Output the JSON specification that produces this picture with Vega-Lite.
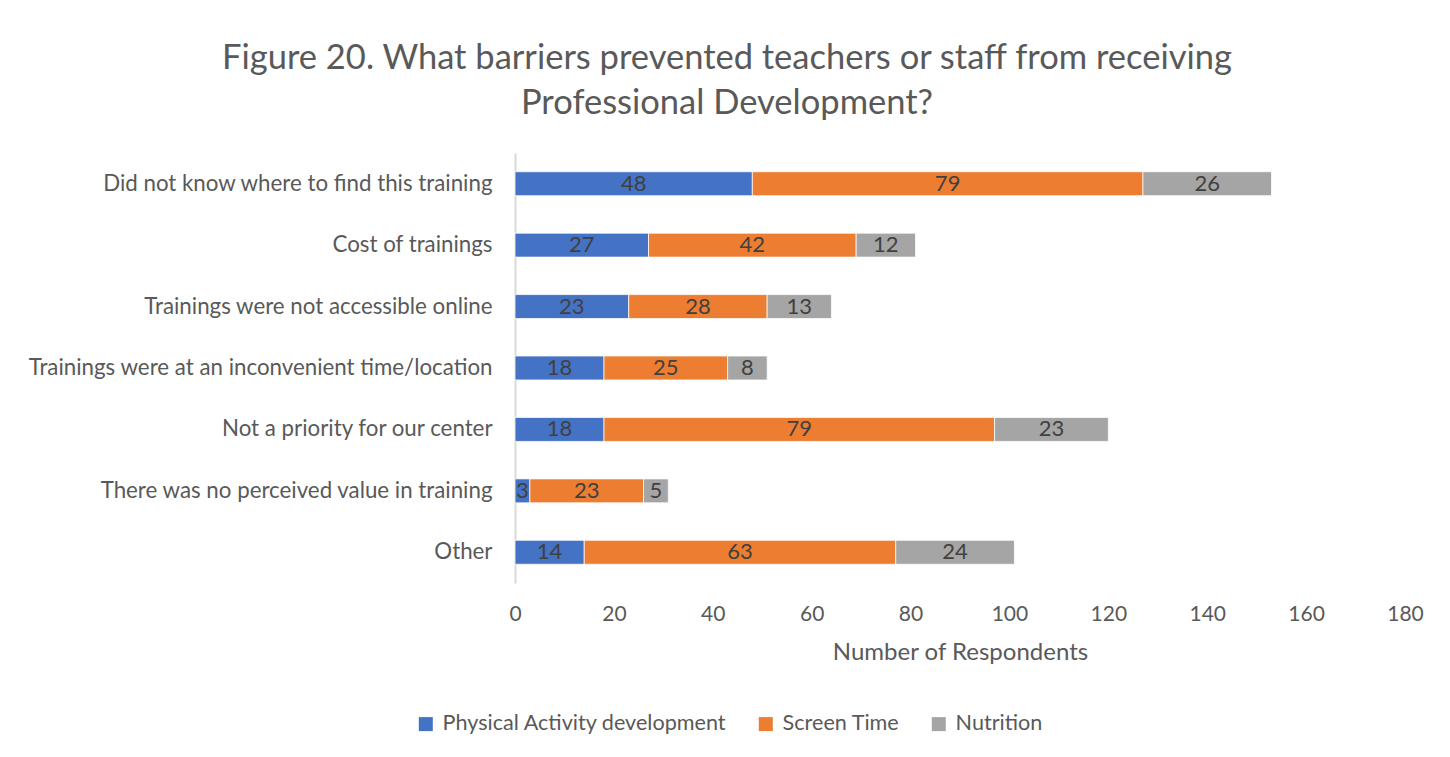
{
  "$schema": "https://vega.github.io/schema/vega-lite/v6.json",
  "width": 890,
  "height": 430,
  "autosize": {"type": "none"},
  "padding": {"left": 515, "top": 153, "right": 45, "bottom": 174},
  "background": "white",
  "title": {
    "text": ["Figure 20. What barriers prevented teachers or staff from receiving", "Professional Development?"],
    "fontSize": 34.5,
    "font": "Lato",
    "fontWeight": "normal",
    "color": "#595959",
    "anchor": "middle",
    "dx": -233,
    "offset": 32,
    "lineHeight": 45
  },
  "data": {
    "values": [
      {"barrier": "Did not know where to find this training", "series": "Physical Activity development", "rank": 1, "value": 48},
      {"barrier": "Did not know where to find this training", "series": "Screen Time", "rank": 2, "value": 79},
      {"barrier": "Did not know where to find this training", "series": "Nutrition", "rank": 3, "value": 26},
      {"barrier": "Cost of trainings", "series": "Physical Activity development", "rank": 1, "value": 27},
      {"barrier": "Cost of trainings", "series": "Screen Time", "rank": 2, "value": 42},
      {"barrier": "Cost of trainings", "series": "Nutrition", "rank": 3, "value": 12},
      {"barrier": "Trainings were not accessible online", "series": "Physical Activity development", "rank": 1, "value": 23},
      {"barrier": "Trainings were not accessible online", "series": "Screen Time", "rank": 2, "value": 28},
      {"barrier": "Trainings were not accessible online", "series": "Nutrition", "rank": 3, "value": 13},
      {"barrier": "Trainings were at an inconvenient time/location", "series": "Physical Activity development", "rank": 1, "value": 18},
      {"barrier": "Trainings were at an inconvenient time/location", "series": "Screen Time", "rank": 2, "value": 25},
      {"barrier": "Trainings were at an inconvenient time/location", "series": "Nutrition", "rank": 3, "value": 8},
      {"barrier": "Not a priority for our center", "series": "Physical Activity development", "rank": 1, "value": 18},
      {"barrier": "Not a priority for our center", "series": "Screen Time", "rank": 2, "value": 79},
      {"barrier": "Not a priority for our center", "series": "Nutrition", "rank": 3, "value": 23},
      {"barrier": "There was no perceived value in training", "series": "Physical Activity development", "rank": 1, "value": 3},
      {"barrier": "There was no perceived value in training", "series": "Screen Time", "rank": 2, "value": 23},
      {"barrier": "There was no perceived value in training", "series": "Nutrition", "rank": 3, "value": 5},
      {"barrier": "Other", "series": "Physical Activity development", "rank": 1, "value": 14},
      {"barrier": "Other", "series": "Screen Time", "rank": 2, "value": 63},
      {"barrier": "Other", "series": "Nutrition", "rank": 3, "value": 24}
    ]
  },
  "transform": [
    {"stack": "value", "groupby": ["barrier"], "sort": [{"field": "rank", "order": "ascending"}], "as": ["x0", "x1"]},
    {"calculate": "(datum.x0 + datum.x1) / 2", "as": "mid"}
  ],
  "encoding": {
    "y": {
      "field": "barrier",
      "type": "nominal",
      "sort": ["Did not know where to find this training", "Cost of trainings", "Trainings were not accessible online", "Trainings were at an inconvenient time/location", "Not a priority for our center", "There was no perceived value in training", "Other"],
      "scale": {"paddingInner": 0.61, "paddingOuter": 0.305},
      "axis": {
        "title": null,
        "labelFont": "Lato",
        "labelFontSize": 22.3,
        "labelColor": "#595959",
        "labelLimit": 600,
        "labelPadding": 23,
        "ticks": false,
        "domainColor": "#D9D9D9",
        "domainWidth": 2,
        "grid": false
      }
    }
  },
  "layer": [
    {
      "mark": {"type": "bar", "stroke": "white", "strokeWidth": 0.75},
      "encoding": {
        "x": {
          "field": "x0",
          "type": "quantitative",
          "scale": {"domain": [0, 180], "nice": false},
          "axis": {
            "title": "Number of Respondents",
            "titleFont": "Lato",
            "titleFontSize": 24,
            "titleFontWeight": "normal",
            "titleColor": "#595959",
            "titlePadding": 16,
            "values": [0, 20, 40, 60, 80, 100, 120, 140, 160, 180],
            "labelFont": "Lato",
            "labelFontSize": 21,
            "labelColor": "#595959",
            "labelPadding": 20,
            "labelFlush": false,
            "ticks": false,
            "domain": false,
            "grid": false
          }
        },
        "x2": {"field": "x1"},
        "color": {
          "field": "series",
          "type": "nominal",
          "scale": {
            "domain": ["Physical Activity development", "Screen Time", "Nutrition"],
            "range": ["#4472C4", "#ED7D31", "#A5A5A5"]
          },
          "legend": {
            "title": null,
            "orient": "none",
            "direction": "horizontal",
            "legendX": -100,
            "legendY": 560,
            "symbolType": "square",
            "symbolSize": 196,
            "symbolStrokeWidth": 0,
            "symbolOpacity": 1,
            "labelFont": "Lato",
            "labelFontSize": 21.6,
            "labelColor": "#595959",
            "labelLimit": 0,
            "labelOffset": 6,
            "columnPadding": 28
          }
        }
      }
    },
    {
      "mark": {"type": "text", "font": "Lato", "fontSize": 22, "color": "#404040", "baseline": "middle", "align": "center"},
      "encoding": {
        "x": {"field": "mid", "type": "quantitative"},
        "text": {"field": "value", "type": "quantitative"}
      }
    }
  ],
  "config": {"view": {"stroke": null}}
}
